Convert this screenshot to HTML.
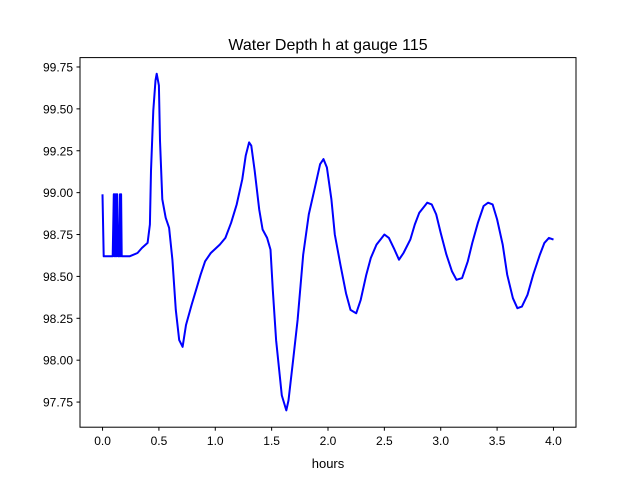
<!DOCTYPE html>
<html><head><meta charset="utf-8"><style>
body{margin:0;background:#fff;}
svg{display:block;font-family:"Liberation Sans","DejaVu Sans",sans-serif;}
</style></head><body>
<svg id="chart" width="640" height="480">
<rect x="0" y="0" width="640" height="480" fill="#fff"/>
<text x="328" y="50" text-anchor="middle" font-size="16">Water Depth h at gauge 115</text>
<g id="xt"></g>
<g id="yt"></g>
<polyline id="line" fill="none" stroke="#0000ff" stroke-width="2" stroke-linejoin="round"/>
<rect x="80" y="57.6" width="496" height="369.6" fill="none" stroke="#000" stroke-width="1"/>
<text x="328" y="468" text-anchor="middle" font-size="13">hours</text>
</svg>
<script>
const hours=[0,0.01,0.09,0.10,0.105,0.11,0.115,0.12,0.125,0.13,0.14,0.15,0.155,0.16,0.165,0.17,0.18,0.24,0.31,0.35,0.40,0.42,0.43,0.45,0.47,0.48,0.50,0.51,0.53,0.56,0.59,0.62,0.65,0.68,0.71,0.74,0.79,0.83,0.87,0.91,0.96,1.04,1.09,1.14,1.19,1.24,1.27,1.30,1.32,1.35,1.39,1.42,1.46,1.49,1.51,1.54,1.567,1.59,1.63,1.65,1.69,1.73,1.78,1.83,1.88,1.93,1.96,1.99,2.03,2.06,2.11,2.16,2.20,2.25,2.29,2.34,2.38,2.43,2.50,2.54,2.59,2.63,2.67,2.73,2.77,2.81,2.88,2.92,2.96,3.00,3.05,3.10,3.14,3.19,3.24,3.28,3.33,3.38,3.42,3.46,3.50,3.55,3.59,3.64,3.68,3.72,3.77,3.82,3.88,3.92,3.96,4.00];
const depths=[98.99,98.62,98.62,98.99,98.62,98.99,98.62,98.99,98.62,98.99,98.62,98.62,98.99,98.62,98.99,98.62,98.62,98.62,98.64,98.67,98.70,98.81,99.13,99.49,99.67,99.71,99.64,99.31,98.96,98.85,98.79,98.60,98.30,98.12,98.08,98.21,98.33,98.42,98.51,98.59,98.64,98.69,98.73,98.82,98.93,99.08,99.22,99.30,99.28,99.13,98.90,98.78,98.73,98.66,98.42,98.12,97.94,97.79,97.70,97.76,98.00,98.24,98.63,98.87,99.02,99.17,99.20,99.15,98.96,98.75,98.57,98.40,98.30,98.28,98.36,98.51,98.61,98.69,98.75,98.73,98.66,98.60,98.64,98.72,98.81,98.88,98.94,98.93,98.87,98.76,98.63,98.53,98.48,98.49,98.59,98.70,98.82,98.92,98.94,98.93,98.84,98.69,98.51,98.37,98.31,98.32,98.39,98.51,98.63,98.70,98.73,98.72];
const xTicks=[0,0.5,1,1.5,2,2.5,3,3.5,4];
const yTicks=[97.75,98,98.25,98.5,98.75,99,99.25,99.5,99.75];
const L=80,R=576,T=57.6,B=427.2,X0=-0.2,X1=4.2,Y0=97.6,Y1=99.806;
const sx=v=>L+(v-X0)/(X1-X0)*(R-L);
const sy=v=>B-(v-Y0)/(Y1-Y0)*(B-T);
const NS='http://www.w3.org/2000/svg';
document.getElementById('line').setAttribute('points',hours.map((h,i)=>sx(h).toFixed(1)+','+sy(depths[i]).toFixed(1)).join(' '));
const xt=document.getElementById('xt'),yt=document.getElementById('yt');
xTicks.forEach(v=>{
 const l=document.createElementNS(NS,'line');
 
 
 l.setAttribute('x1',sx(v));l.setAttribute('x2',sx(v));l.setAttribute('y1',B);l.setAttribute('y2',B+3.5);l.setAttribute('stroke','#000');
 xt.appendChild(l);
 const t=document.createElementNS(NS,'text');
 
 
 t.setAttribute('x',sx(v));t.setAttribute('y',B+18);t.setAttribute('text-anchor','middle');t.setAttribute('font-size','12');
 t.textContent=v.toFixed(1);xt.appendChild(t);
});
yTicks.forEach(v=>{
 const l=document.createElementNS(NS,'line');
 
 
 l.setAttribute('x1',L-3.5);l.setAttribute('x2',L);l.setAttribute('y1',sy(v));l.setAttribute('y2',sy(v));l.setAttribute('stroke','#000');
 yt.appendChild(l);
 const t=document.createElementNS(NS,'text');
 
 
 t.setAttribute('x',L-7);t.setAttribute('y',sy(v)+4.5);t.setAttribute('text-anchor','end');t.setAttribute('font-size','12');
 t.textContent=v.toFixed(2);yt.appendChild(t);
});
</script>
</body></html>
